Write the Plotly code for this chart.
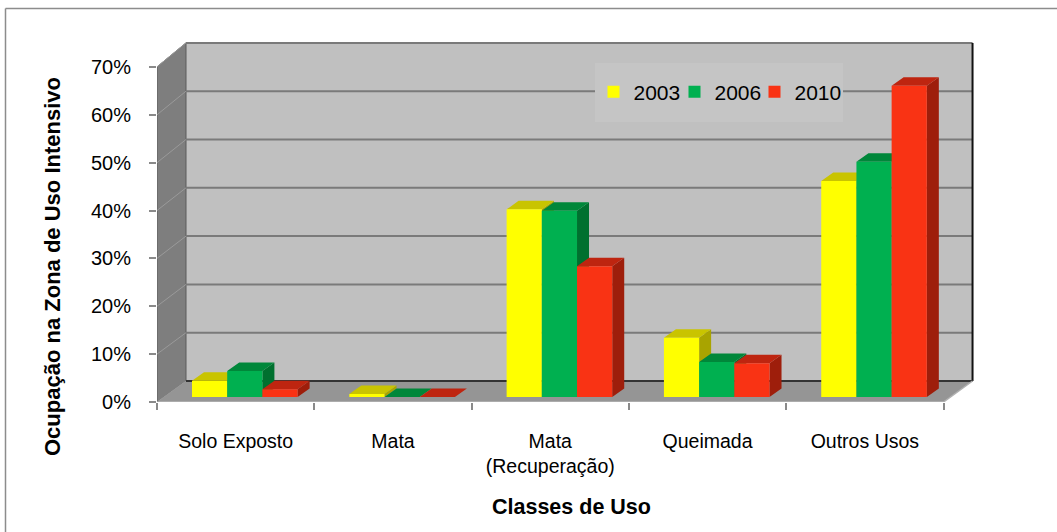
import plotly.graph_objects as go

# ---------------- data ----------------
categories = ["Solo Exposto", "Mata", "Mata<br>(Recuperação)", "Queimada", "Outros Usos"]
years = ["2003", "2006", "2010"]
v2003 = [3.4, 0.6, 39.0, 12.3, 44.9]
v2006 = [5.4, 0.0, 38.7, 7.3, 48.9]
v2010 = [1.6, 0.0, 27.2, 7.0, 64.7]
y_ticks = [0, 10, 20, 30, 40, 50, 60, 70]
y_tick_labels = ["0%", "10%", "20%", "30%", "40%", "50%", "60%", "70%"]
x_title = "Classes de Uso"
y_title = "Ocupação na Zona de Uso Intensivo"

series = [v2003, v2006, v2010]
front_colors = ["#FFFF00", "#00B050", "#F93314"]
top_colors = ["#C9C400", "#00873A", "#BE2510"]
side_colors = ["#A9A400", "#00702F", "#9E1E0B"]

# ---------------- geometry (pseudo 3-D projection) ----------------
FIG_W, FIG_H = 1057, 532
M_L, M_R, M_T, M_B = 157, 82, 42, 130
X_MAX, Y_MAX = 5.2, 75.2
px_x = (FIG_W - M_L - M_R) / X_MAX
px_y = (FIG_H - M_T - M_B) / Y_MAX

BACK_DX = 29 / px_x
BACK_DY = 21 / px_y
BACK_K = 1.009
BAR_BASE = 5 / px_y
BAR_K = 1.005
BAR_W = 35.2 / px_x
BAR_X0 = 35.0 / px_x
DEP_DX = 12 / px_x
DEP_DY = 8.5 / px_y
N = len(categories)
LEGEND_SYMBOL_CENTERS = [617.5, 698.5, 778.5]  # px, reference legend layout


def back_y(t):
    return BACK_DY + BACK_K * t


def px_to_paper_x(p):
    return (p - M_L) / (FIG_W - M_L - M_R)


def px_to_paper_y(p):
    return (FIG_H - M_B - p) / (FIG_H - M_T - M_B)


FONT = "Arial, 'Liberation Sans', sans-serif"
legend_ids = ["legend", "legend2", "legend3"]

fig = go.Figure()

# sides then tops (base subplot)
for s, vals in enumerate(series):
    xs, ys = [], []
    for i, v in enumerate(vals):
        L = i + BAR_X0 + s * BAR_W
        R = L + BAR_W
        B = BAR_BASE
        T = B + v * BAR_K
        xs += [R, R, R + DEP_DX, R + DEP_DX, R, None]
        ys += [B, T, T + DEP_DY, B + DEP_DY, B, None]
    fig.add_trace(go.Scatter(x=xs, y=ys, mode="lines", fill="toself",
                             fillcolor=side_colors[s], line=dict(width=0),
                             showlegend=False, hoverinfo="skip"))
for s, vals in enumerate(series):
    xs, ys = [], []
    for i, v in enumerate(vals):
        L = i + BAR_X0 + s * BAR_W
        R = L + BAR_W
        T = BAR_BASE + v * BAR_K
        xs += [L, R, R + DEP_DX, L + DEP_DX, L, None]
        ys += [T, T, T + DEP_DY, T + DEP_DY, T, None]
    fig.add_trace(go.Scatter(x=xs, y=ys, mode="lines", fill="toself",
                             fillcolor=top_colors[s], line=dict(width=0),
                             showlegend=False, hoverinfo="skip"))

# front faces (overlay subplot so they sit above tops / sides)
for s, vals in enumerate(series):
    fig.add_trace(go.Bar(
        x=[i + BAR_X0 + s * BAR_W + BAR_W / 2 for i in range(N)],
        y=[v * BAR_K for v in vals],
        base=BAR_BASE, width=BAR_W, name=years[s],
        marker=dict(color=front_colors[s], line=dict(width=0)),
        customdata=vals, hovertemplate="%{customdata}%<extra>" + years[s] + "</extra>",
        xaxis="x2", yaxis="y2", legend=legend_ids[s], showlegend=True))

shapes = []
# back wall
shapes.append(dict(type="rect", xref="x", yref="y", layer="below",
                   x0=BACK_DX, x1=N + BACK_DX, y0=back_y(0), y1=back_y(70),
                   fillcolor="#C0C0C0", line=dict(width=0)))
# side wall
shapes.append(dict(type="path", xref="x", yref="y", layer="below",
                   path=f"M0,0 L0,70 L{BACK_DX},{back_y(70)} L{BACK_DX},{back_y(0)} Z",
                   fillcolor="#7E7E7E", line=dict(color="#5A5A5A", width=1)))
# floor
shapes.append(dict(type="path", xref="x", yref="y", layer="below",
                   path=f"M0,0 L{N},0 L{N + BACK_DX},{back_y(0)} L{BACK_DX},{back_y(0)} Z",
                   fillcolor="#959595", line=dict(width=0)))
shapes.append(dict(type="line", xref="x", yref="y", layer="below",
                   x0=0, x1=N, y0=0, y1=0, line=dict(color="#B5B5B5", width=1.5)))
# gridlines on back wall and side wall
for t in y_ticks:
    shapes.append(dict(type="line", xref="x", yref="y", layer="below",
                       x0=BACK_DX, x1=N + BACK_DX, y0=back_y(t), y1=back_y(t),
                       line=dict(color="#7A7A7A", width=2)))
    shapes.append(dict(type="line", xref="x", yref="y", layer="below",
                       x0=0, x1=BACK_DX, y0=t, y1=back_y(t),
                       line=dict(color="#9A9A9A", width=1)))
# back wall edges
shapes.append(dict(type="line", xref="x", yref="y", layer="below",
                   x0=N + BACK_DX, x1=N + BACK_DX, y0=back_y(0), y1=back_y(70),
                   line=dict(color="#111111", width=2)))
shapes.append(dict(type="line", xref="x", yref="y", layer="below",
                   x0=BACK_DX, x1=N + BACK_DX, y0=back_y(0), y1=back_y(0),
                   line=dict(color="#333333", width=2)))
shapes.append(dict(type="line", xref="x", yref="y", layer="below",
                   x0=N + BACK_DX, x1=N, y0=back_y(0), y1=0,
                   line=dict(color="#B0B0B0", width=1.5)))
# legend box
shapes.append(dict(type="rect", xref="x", yref="y", layer="below",
                   x0=(595 - M_L) / px_x, x1=(843 - M_L) / px_x,
                   y0=(FIG_H - M_B - 122) / px_y, y1=(FIG_H - M_B - 63) / px_y,
                   fillcolor="#C5C5C5", line=dict(width=0)))
# outer chart border (left and top)
shapes.append(dict(type="line", xref="paper", yref="paper",
                   x0=px_to_paper_x(5.5), x1=px_to_paper_x(5.5),
                   y0=px_to_paper_y(8.5), y1=px_to_paper_y(540),
                   line=dict(color="#8C8C8C", width=1.5)))
shapes.append(dict(type="line", xref="paper", yref="paper",
                   x0=px_to_paper_x(5.5), x1=px_to_paper_x(1060),
                   y0=px_to_paper_y(8.5), y1=px_to_paper_y(8.5),
                   line=dict(color="#8C8C8C", width=1.5)))

annotations = [
    dict(text=f"<b>{y_title}</b>", xref="paper", yref="paper",
         x=px_to_paper_x(52), y=px_to_paper_y(267), textangle=-90,
         showarrow=False, xanchor="center", yanchor="middle",
         font=dict(family=FONT, size=22, color="#000000")),
    dict(text=f"<b>{x_title}</b>", xref="paper", yref="paper",
         x=px_to_paper_x(571), y=px_to_paper_y(507),
         showarrow=False, xanchor="center", yanchor="middle",
         font=dict(family=FONT, size=21.5, color="#000000")),
]

legend_layouts = {}
for s, lid in enumerate(legend_ids):
    legend_layouts[lid] = dict(
        orientation="h", x=px_to_paper_x(LEGEND_SYMBOL_CENTERS[s] - 24),
        y=px_to_paper_y(92), xanchor="left", yanchor="middle",
        bgcolor="rgba(0,0,0,0)", font=dict(family=FONT, size=21, color="#000000"))

fig.update_layout(
    width=FIG_W, height=FIG_H,
    margin=dict(l=M_L, r=M_R, t=M_T, b=M_B, pad=0, autoexpand=False),
    paper_bgcolor="#FFFFFF", plot_bgcolor="rgba(0,0,0,0)",
    font=dict(family=FONT, size=19.5, color="#000000"),
    barmode="overlay",
    shapes=shapes, annotations=annotations,
    xaxis=dict(range=[0, X_MAX], showgrid=False, zeroline=False, showline=False,
               tickmode="array", tickvals=[i + 0.5 for i in range(N)], ticktext=categories,
               ticks="", ticklabelstandoff=25, fixedrange=True,
               minor=dict(tickmode="array", tickvals=list(range(N + 1)), ticks="outside",
                          ticklen=7, tickcolor="#8A8A8A", tickwidth=1.5, showgrid=False)),
    yaxis=dict(range=[0, Y_MAX], showgrid=False, zeroline=False, showline=False,
               tickmode="array", tickvals=y_ticks, ticktext=y_tick_labels,
               ticks="outside", ticklen=7, tickcolor="#8A8A8A", tickwidth=1.5,
               ticklabelstandoff=14, tickfont=dict(size=20), fixedrange=True),
    xaxis2=dict(range=[0, X_MAX], overlaying="x", visible=False, fixedrange=True),
    yaxis2=dict(range=[0, Y_MAX], overlaying="y", visible=False, fixedrange=True),
    showlegend=True,
    **legend_layouts,
)

fig.write_html("out.html", config={"displayModeBar": False},
               post_script="document.body.style.margin='0';document.body.style.overflow='hidden';")
